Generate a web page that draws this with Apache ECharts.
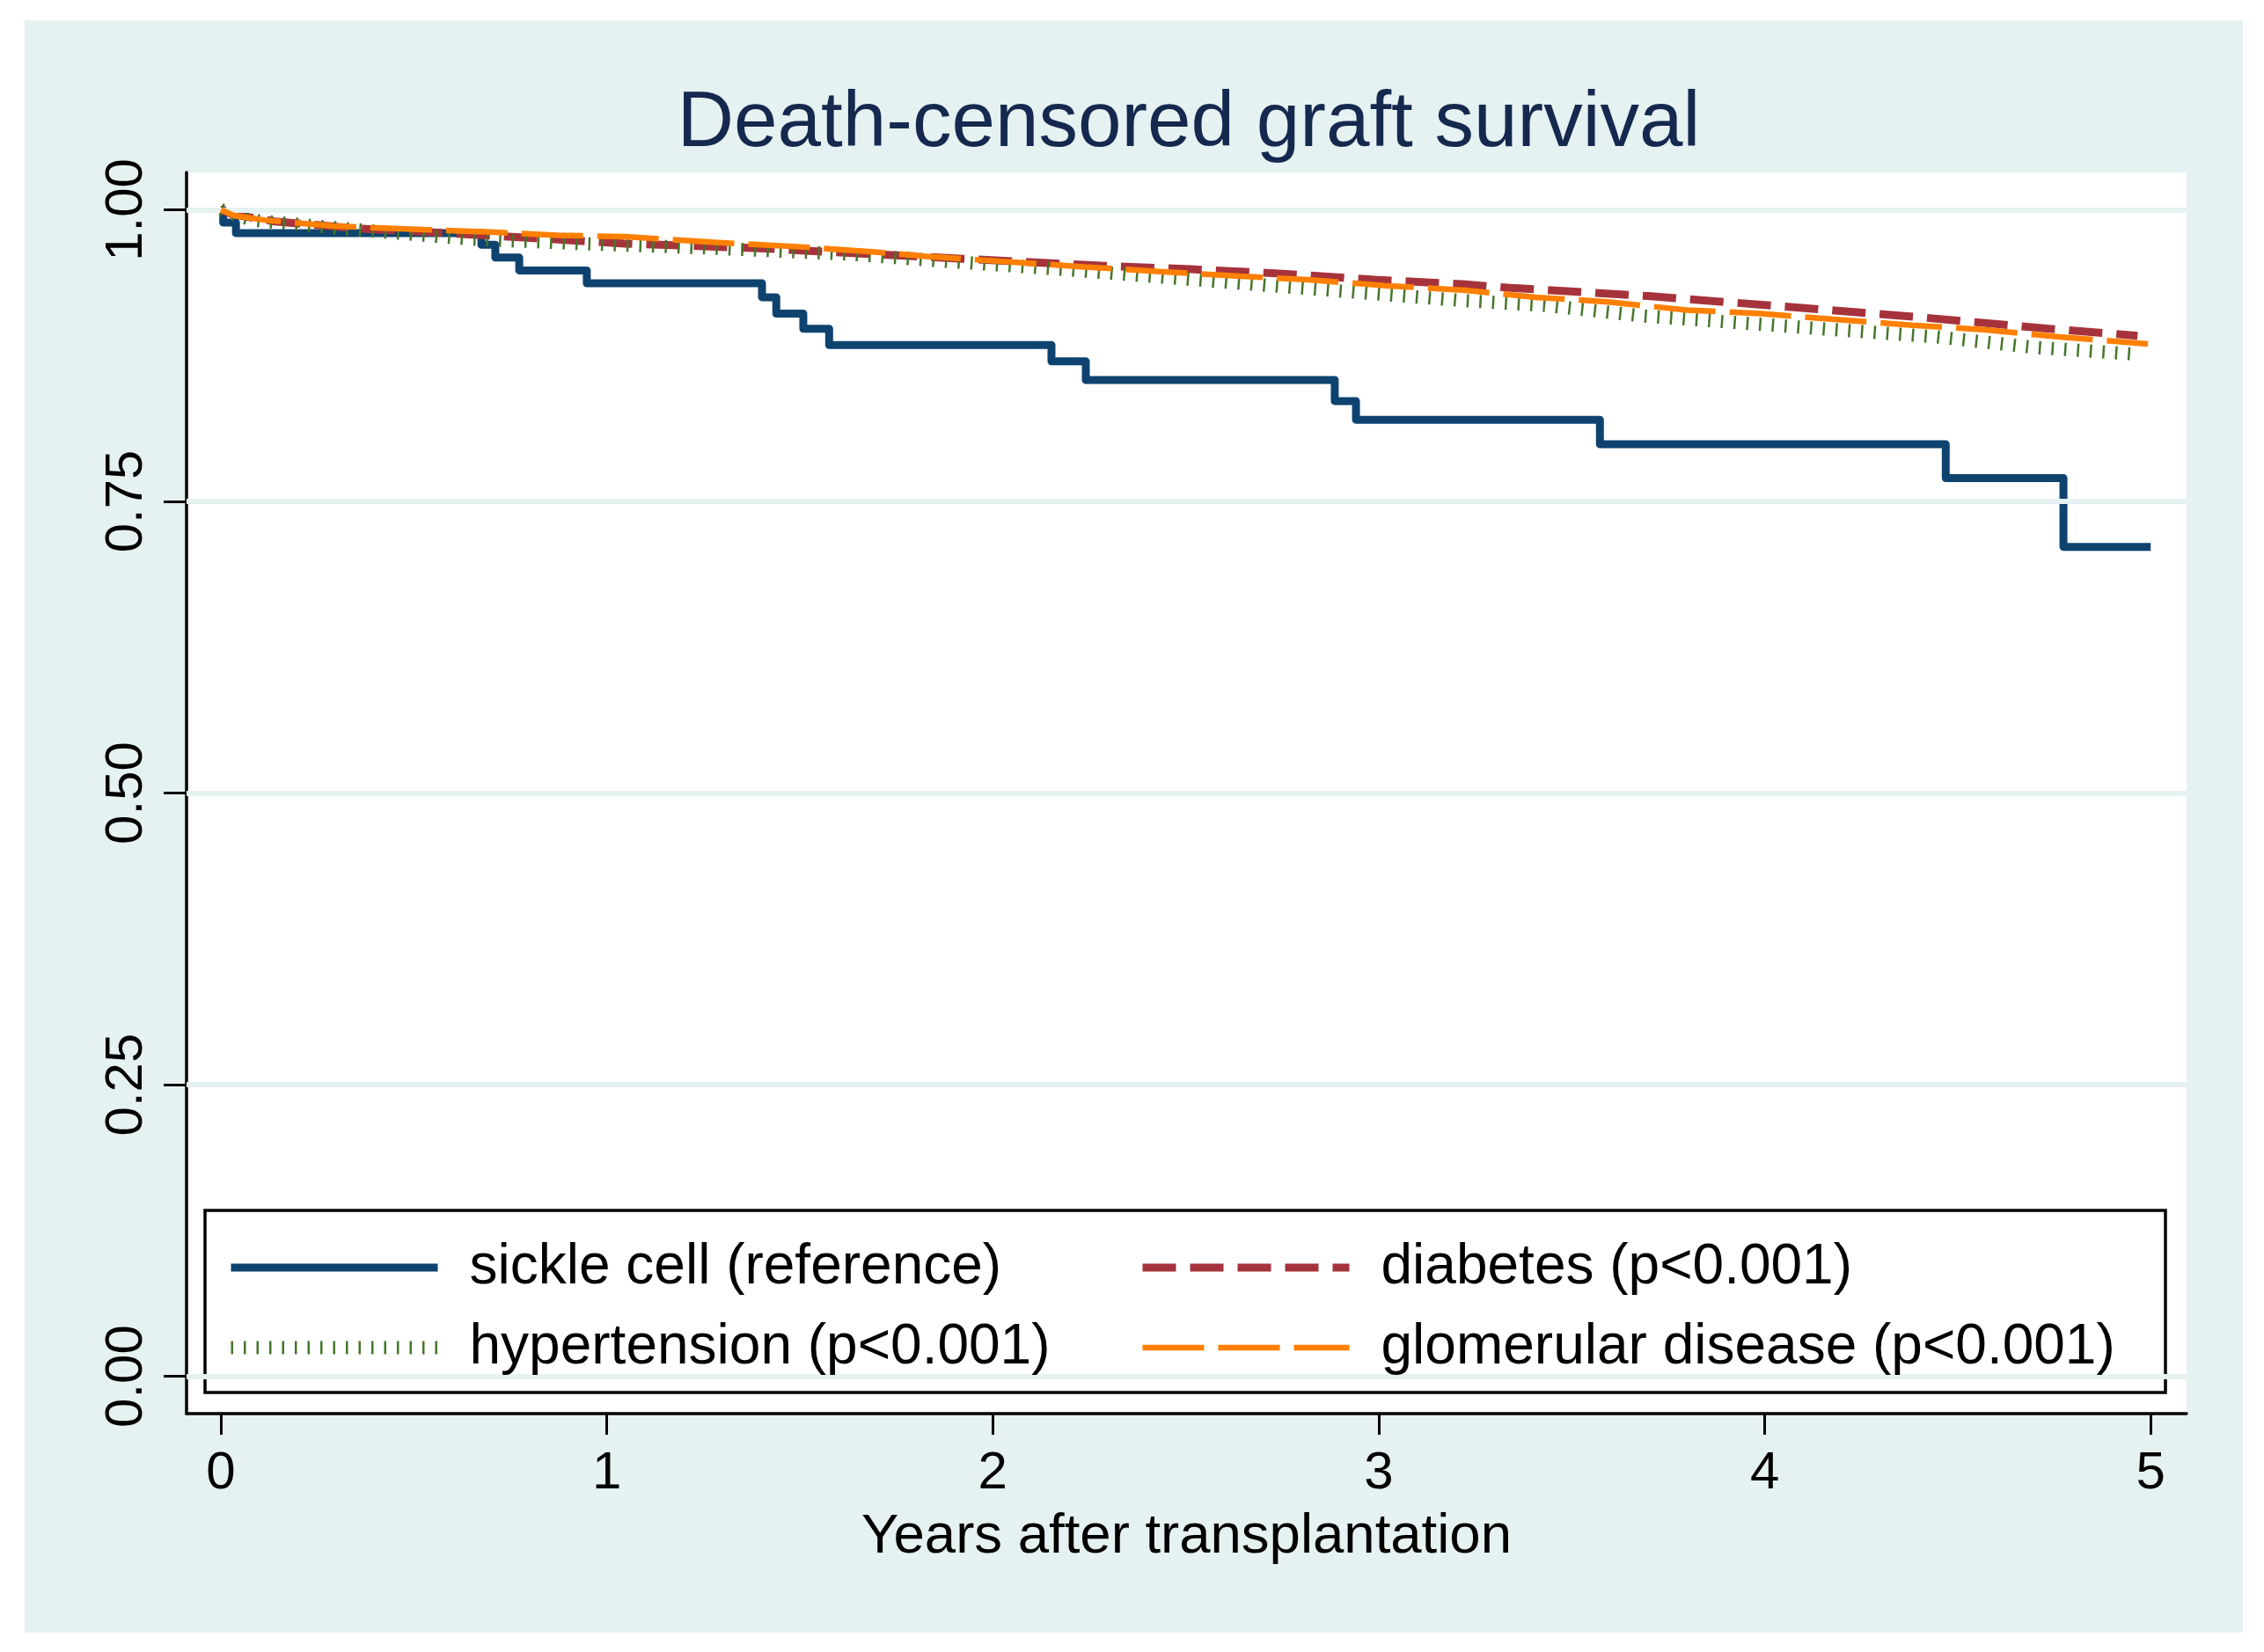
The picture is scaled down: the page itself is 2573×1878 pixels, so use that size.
<!DOCTYPE html>
<html><head><meta charset="utf-8">
<script src="https://cdn.jsdelivr.net/npm/echarts@6/dist/echarts.min.js"></script>
<style>html,body{margin:0;padding:0;background:#fff}#c{width:2573px;height:1878px}</style>
</head><body><div id="c"></div>
<script>
// ---- data ----
const titleText = 'Death-censored graft survival';
const xAxisName = 'Years after transplantation';
const xTicks = [0, 1, 2, 3, 4, 5];
const yTicks = [0, 0.25, 0.5, 0.75, 1];
const seriesNames = ['sickle cell (reference)', 'diabetes (p<0.001)', 'hypertension (p<0.001)', 'glomerular disease (p<0.001)'];

const sickleTimes = [0, 0.006, 0.039, 0.675, 0.711, 0.773, 0.948, 1.402, 1.439, 1.509, 1.576, 2.152, 2.241, 2.886, 2.941, 3.573, 4.469, 4.774, 5.0];
const sickleSurv  = [1.0, 0.989, 0.980, 0.970, 0.959, 0.948, 0.937, 0.925, 0.911, 0.898, 0.884, 0.870, 0.854, 0.836, 0.820, 0.799, 0.770, 0.711, 0.711];

const diabetesTimes = [0, 0.03, 0.139, 0.349, 0.581, 0.745, 1.047, 1.396, 1.687, 1.922, 2.282, 2.515, 2.759, 2.991, 3.224, 3.342, 3.698, 4.052, 4.396, 4.738, 4.966];
const diabetesSurv  = [1.0, 0.996, 0.990, 0.984, 0.980, 0.977, 0.971, 0.967, 0.962, 0.958, 0.952, 0.949, 0.945, 0.940, 0.936, 0.933, 0.926, 0.917, 0.908, 0.898, 0.892];

const hypertensionTimes = [0, 0.082, 0.349, 0.641, 0.930, 1.279, 1.628, 1.829, 2.177, 2.526, 2.875, 3.224, 3.431, 3.685, 4.065, 4.446, 4.699, 4.973];
const hypertensionSurv  = [1.0, 0.991, 0.983, 0.975, 0.971, 0.967, 0.962, 0.957, 0.949, 0.940, 0.931, 0.922, 0.918, 0.909, 0.900, 0.891, 0.882, 0.876];

const glomerularTimes = [0, 0.034, 0.116, 0.292, 0.524, 0.698, 0.873, 1.047, 1.279, 1.512, 1.687, 1.829, 2.237, 2.433, 2.642, 2.817, 3.014, 3.224, 3.406, 3.595, 3.798, 3.990, 4.179, 4.382, 4.574, 4.763, 4.993];
const glomerularSurv  = [1.0, 0.995, 0.991, 0.986, 0.983, 0.981, 0.978, 0.977, 0.972, 0.968, 0.964, 0.960, 0.951, 0.947, 0.943, 0.940, 0.935, 0.931, 0.925, 0.921, 0.914, 0.911, 0.906, 0.901, 0.897, 0.891, 0.885];

// ---- chart ----
const zip = (a, b) => a.map((t, i) => [t, b[i]]);
const FONT = "'Liberation Sans', Arial, Helvetica, sans-serif";
const BG = '#E6F1F1';
const chart = echarts.init(document.getElementById('c'), null, {renderer: 'canvas'});

const styles = [
  {color: '#0E436F', width: 9, type: 'solid', cap: 'butt'},
  {color: '#A6333C', width: 9, type: [38, 16], cap: 'butt'},
  {color: '#46762A', width: 15, type: [2.5, 12], cap: 'butt'},
  {color: '#FF8000', width: 6.5, type: [70, 16], cap: 'butt'}
];
const legendItem = i => ({name: seriesNames[i], lineStyle: styles[i], itemStyle: {opacity: 0, borderWidth: 0}});
const legendText = {fontSize: 64, color: '#000', fontFamily: FONT, lineHeight: 62, padding: [0, 0, 0, 31]};

const option = {
  backgroundColor: '#ffffff',
  animation: false,
  title: {
    text: titleText, left: 1346, top: 92, textAlign: 'center',
    textStyle: {fontSize: 89, fontWeight: 'normal', color: '#15294F', fontFamily: FONT}
  },
  graphic: [
    {type: 'rect', z: -100, shape: {x: 28, y: 23, width: 2521, height: 1833}, style: {fill: BG}, silent: true},
    {type: 'rect', z: 3, shape: {x: 233, y: 1376, width: 2228, height: 207}, style: {fill: '#fff', stroke: '#000', lineWidth: 3.5}, silent: true}
  ],
  grid: {left: 212, right: 88, top: 196, bottom: 271, show: true, backgroundColor: '#fff', borderWidth: 0},
  legend: [
    {data: [legendItem(0), legendItem(2)], orient: 'vertical', left: 255, top: 1409, padding: 0, itemWidth: 235, itemHeight: 20, itemGap: 27, textStyle: legendText, z: 6, selectedMode: false},
    {data: [legendItem(1), legendItem(3)], orient: 'vertical', left: 1294, top: 1409, padding: 0, itemWidth: 235, itemHeight: 20, itemGap: 27, textStyle: legendText, z: 6, selectedMode: false}
  ],
  xAxis: {
    type: 'value', min: -0.089, max: 5.093,
    name: xAxisName, nameLocation: 'middle', nameGap: 108,
    nameTextStyle: {fontSize: 63.5, color: '#000', fontFamily: FONT},
    axisLine: {show: true, onZero: false, lineStyle: {color: '#000', width: 3.5}},
    axisTick: {show: true, customValues: xTicks, length: 24, lineStyle: {color: '#000', width: 3}},
    axisLabel: {customValues: xTicks, fontSize: 60, color: '#000', fontFamily: FONT, margin: 38},
    splitLine: {show: false}
  },
  yAxis: {
    type: 'value', min: -0.032, max: 1.032,
    axisLine: {show: true, onZero: false, lineStyle: {color: '#000', width: 3.5}},
    axisTick: {show: true, customValues: yTicks, length: 26, lineStyle: {color: '#000', width: 3}},
    axisLabel: {customValues: yTicks, rotate: 90, fontSize: 60, color: '#000', fontFamily: FONT, margin: 38,
      formatter: v => Number(v).toFixed(2)},
    splitLine: {show: false}
  },
  series: [
    {
      name: '__grid', type: 'line', data: [], z: 1, silent: true,
      markLine: {silent: true, symbol: ['none', 'none'], label: {show: false},
        lineStyle: {color: BG, width: 6, type: 'solid'},
        data: yTicks.map(v => ({yAxis: v}))}
    },
    {name: seriesNames[0], type: 'line', step: 'end', data: zip(sickleTimes, sickleSurv), showSymbol: false, symbol: 'none', z: 2,
      lineStyle: Object.assign({join: 'round'}, styles[0]), itemStyle: {color: styles[0].color}},
    {name: seriesNames[1], type: 'line', data: zip(diabetesTimes, diabetesSurv), showSymbol: false, symbol: 'none', z: 3,
      lineStyle: styles[1], itemStyle: {color: styles[1].color}},
    {name: seriesNames[2], type: 'line', data: zip(hypertensionTimes, hypertensionSurv), showSymbol: false, symbol: 'none', z: 4,
      lineStyle: styles[2], itemStyle: {color: styles[2].color}},
    {name: seriesNames[3], type: 'line', data: zip(glomerularTimes, glomerularSurv), showSymbol: false, symbol: 'none', z: 5,
      lineStyle: styles[3], itemStyle: {color: styles[3].color}}
  ]
};
chart.setOption(option);
</script></body></html>
